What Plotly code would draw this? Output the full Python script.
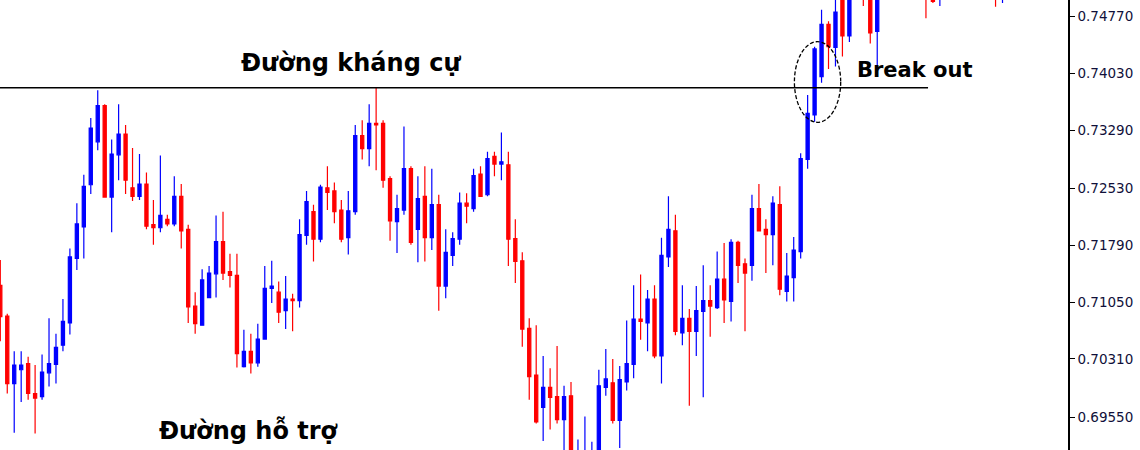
import plotly.graph_objects as go

# ---- data ----
opens = [0.7127, 0.7087, 0.6999, 0.7017, 0.7025, 0.6986, 0.6982, 0.7013, 0.7024, 0.7049,
         0.7078, 0.7162, 0.7203, 0.7258, 0.7314, 0.7361, 0.7242, 0.7297, 0.7324, 0.7254,
         0.7243, 0.7259, 0.7206, 0.7202, 0.7213, 0.7207, 0.7243, 0.7200, 0.7100, 0.7075,
         0.7111, 0.7142, 0.7184, 0.7145, 0.7140, 0.7021, 0.7041, 0.7026, 0.7057, 0.7123,
         0.7118, 0.7094, 0.7109, 0.7107, 0.7192, 0.7223, 0.7187, 0.7254, 0.7250, 0.7225,
         0.7189, 0.7223, 0.7322, 0.7305, 0.7338, 0.7338, 0.7266, 0.7210, 0.7225, 0.7279,
         0.7200, 0.7243, 0.7189, 0.7232, 0.7126, 0.7166, 0.7187, 0.7234, 0.7227, 0.7272,
         0.7245, 0.7295, 0.7285, 0.7284, 0.7188, 0.7159, 0.7071, 0.7010, 0.6968, 0.6994,
         0.6982, 0.6952, 0.6983, 0.6880, 0.6885, 0.6880, 0.6905, 0.6994, 0.7000, 0.6951,
         0.7001, 0.7024, 0.7083, 0.7078, 0.7109, 0.7035, 0.7164, 0.7198, 0.7065, 0.7084,
         0.7067, 0.7093, 0.7107, 0.7098, 0.7135, 0.7106, 0.7183, 0.7155, 0.7153, 0.7227,
         0.7200, 0.7193, 0.7232, 0.7119, 0.7137, 0.7171, 0.7291, 0.7349, 0.7399, 0.7467,
         0.7437, 0.7505, 0.7452, 0.7515, 0.7540, 0.7512, 0.7458, 0.7520, 0.7508, 0.7536,
         0.7560, 0.7538, 0.7522, 0.7530, 0.7512, 0.7505, 0.7530, 0.7512, 0.7528, 0.7510,
         0.7525, 0.7544, 0.7520, 0.7512, 0.7502, 0.7518, 0.7535]
highs = [0.7160, 0.7090, 0.7041, 0.7041, 0.7034, 0.7023, 0.7037, 0.7084, 0.7064, 0.7109,
         0.7175, 0.7234, 0.7271, 0.7345, 0.7381, 0.7363, 0.7317, 0.7363, 0.7336, 0.7306,
         0.7298, 0.7274, 0.7238, 0.7296, 0.7219, 0.7269, 0.7259, 0.7206, 0.7118, 0.7148,
         0.7152, 0.7218, 0.7223, 0.7168, 0.7168, 0.7069, 0.7064, 0.7077, 0.7152, 0.7159,
         0.7132, 0.7139, 0.7116, 0.7213, 0.7250, 0.7232, 0.7258, 0.7282, 0.7261, 0.7238,
         0.7250, 0.7336, 0.7342, 0.7363, 0.7385, 0.7342, 0.7269, 0.7245, 0.7334, 0.7282,
         0.7269, 0.7282, 0.7279, 0.7245, 0.7200, 0.7196, 0.7248, 0.7247, 0.7279, 0.7282,
         0.7301, 0.7301, 0.7326, 0.7301, 0.7213, 0.7170, 0.7084, 0.7075, 0.7035, 0.7019,
         0.7048, 0.6996, 0.7001, 0.6926, 0.6956, 0.6923, 0.7017, 0.7044, 0.7031, 0.7022,
         0.7081, 0.7127, 0.7141, 0.7121, 0.7127, 0.7189, 0.7243, 0.7219, 0.7127, 0.7096,
         0.7126, 0.7153, 0.7127, 0.7171, 0.7182, 0.7187, 0.7185, 0.7162, 0.7245, 0.7259,
         0.7213, 0.7243, 0.7256, 0.7169, 0.7190, 0.7299, 0.7375, 0.7438, 0.7486, 0.7471,
         0.7512, 0.7518, 0.7528, 0.7545, 0.7552, 0.7530, 0.7535, 0.7538, 0.7545, 0.7568,
         0.7570, 0.7548, 0.7550, 0.7545, 0.7525, 0.7540, 0.7541, 0.7535, 0.7537, 0.7533,
         0.7551, 0.7556, 0.7528, 0.7525, 0.7530, 0.7540, 0.7544]
lows = [0.7054, 0.6986, 0.6935, 0.6975, 0.6978, 0.6934, 0.6978, 0.6995, 0.6999, 0.7041,
        0.7063, 0.7147, 0.7162, 0.7246, 0.7303, 0.7242, 0.7196, 0.7264, 0.7246, 0.7237,
        0.7238, 0.7200, 0.7180, 0.7196, 0.7204, 0.7204, 0.7175, 0.7078, 0.7064, 0.7075,
        0.7111, 0.7111, 0.7134, 0.7124, 0.7020, 0.7020, 0.7012, 0.7021, 0.7056, 0.7104,
        0.7078, 0.7070, 0.7067, 0.7098, 0.7180, 0.7158, 0.7183, 0.7225, 0.7208, 0.7183,
        0.7167, 0.7219, 0.7291, 0.7282, 0.7277, 0.7254, 0.7185, 0.7169, 0.7219, 0.7180,
        0.7157, 0.7158, 0.7173, 0.7094, 0.7110, 0.7152, 0.7180, 0.7208, 0.7223, 0.7243,
        0.7243, 0.7269, 0.7264, 0.7152, 0.7130, 0.7047, 0.6978, 0.6947, 0.6924, 0.6939,
        0.6947, 0.6902, 0.6895, 0.6872, 0.6878, 0.6870, 0.6898, 0.6983, 0.6947, 0.6915,
        0.6990, 0.7006, 0.7056, 0.7041, 0.7032, 0.6999, 0.7151, 0.7062, 0.7049, 0.6970,
        0.7035, 0.6981, 0.7060, 0.7096, 0.7078, 0.7080, 0.7130, 0.7067, 0.7133, 0.7198,
        0.7143, 0.7153, 0.7114, 0.7106, 0.7106, 0.7162, 0.7279, 0.7340, 0.7391, 0.7409,
        0.7412, 0.7425, 0.7444, 0.7506, 0.7491, 0.7442, 0.7412, 0.7503, 0.7502, 0.7525,
        0.7530, 0.7515, 0.7510, 0.7475, 0.7495, 0.7491, 0.7508, 0.7504, 0.7506, 0.7503,
        0.7519, 0.7515, 0.7502, 0.7490, 0.7495, 0.7510, 0.7512]
closes = [0.7086, 0.6999, 0.7023, 0.7023, 0.6986, 0.6980, 0.7014, 0.7025, 0.7046, 0.7080,
          0.7164, 0.7207, 0.7256, 0.7332, 0.7361, 0.7242, 0.7298, 0.7324, 0.7264, 0.7243,
          0.7259, 0.7204, 0.7202, 0.7218, 0.7207, 0.7243, 0.7198, 0.7099, 0.7077, 0.7134,
          0.7143, 0.7184, 0.7143, 0.7140, 0.7038, 0.7041, 0.7026, 0.7057, 0.7123, 0.7126,
          0.7092, 0.7109, 0.7107, 0.7193, 0.7236, 0.7187, 0.7255, 0.7248, 0.7223, 0.7187,
          0.7224, 0.7322, 0.7305, 0.7338, 0.7336, 0.7264, 0.7211, 0.7227, 0.7279, 0.7183,
          0.7240, 0.7189, 0.7232, 0.7126, 0.7170, 0.7188, 0.7234, 0.7230, 0.7270, 0.7243,
          0.7292, 0.7285, 0.7288, 0.7187, 0.7158, 0.7070, 0.7008, 0.6949, 0.6994, 0.6981,
          0.6952, 0.6982, 0.6905, 0.6906, 0.6908, 0.6910, 0.6996, 0.7005, 0.6951, 0.7004,
          0.7025, 0.7083, 0.7080, 0.7109, 0.7035, 0.7166, 0.7200, 0.7067, 0.7084, 0.7067,
          0.7094, 0.7107, 0.7100, 0.7135, 0.7108, 0.7183, 0.7153, 0.7143, 0.7227, 0.7198,
          0.7193, 0.7234, 0.7122, 0.7139, 0.7173, 0.7292, 0.7351, 0.7435, 0.7467, 0.7438,
          0.7483, 0.7452, 0.7515, 0.7532, 0.7510, 0.7456, 0.7520, 0.7508, 0.7536, 0.7560,
          0.7538, 0.7522, 0.7541, 0.7505, 0.7497, 0.7530, 0.7512, 0.7528, 0.7510, 0.7525,
          0.7544, 0.7520, 0.7508, 0.7502, 0.7518, 0.7535, 0.7519]

tick_values = [0.69550, 0.70310, 0.71050, 0.71790, 0.72530, 0.73290, 0.74030, 0.74770]
tick_labels = ["0.69550", "0.70310", "0.71050", "0.71790", "0.72530", "0.73290", "0.74030", "0.74770"]

resistance_level = 0.73845
resistance_end = 133.3

breakout_zone = dict(x0=114.1, x1=120.75, y0=0.73394, y1=0.74445)

labels = [
    dict(text="Đường kháng cự", x=50.4, y=0.74167, size=24),
    dict(text="Break out", x=131.35, y=0.74076, size=21),
    dict(text="Đường hỗ trợ", x=35.7, y=0.69372, size=24),
]

idx = list(range(len(opens)))

fig = go.Figure(go.Candlestick(
    x=idx, open=opens, high=highs, low=lows, close=closes,
    increasing=dict(line=dict(color="#0000FF", width=1.2), fillcolor="#0000FF"),
    decreasing=dict(line=dict(color="#FF0000", width=1.2), fillcolor="#FF0000"),
    whiskerwidth=0,
    showlegend=False,
    hoverinfo="skip",
))

fig.add_shape(type="line", xref="x", yref="y", x0=-2, x1=resistance_end,
              y0=resistance_level, y1=resistance_level,
              line=dict(color="black", width=1.5))
fig.add_shape(type="circle", xref="x", yref="y", **breakout_zone,
              line=dict(color="black", width=1.3, dash="4px,2px"))

for lb in labels:
    fig.add_annotation(x=lb["x"], y=lb["y"], text=lb["text"], showarrow=False,
                       xanchor="center", yanchor="middle",
                       font=dict(family="DejaVu Sans", size=lb["size"], color="black", weight="bold"))

fig.update_layout(
    width=1140, height=450,
    margin=dict(l=0, r=72, t=0, b=0),
    paper_bgcolor="white", plot_bgcolor="white",
    boxgap=0.35,
    hovermode=False,
    xaxis=dict(visible=False, range=[-0.043, 153.41], rangeslider=dict(visible=False)),
    yaxis=dict(side="right", range=[0.69124, 0.749876], tickvals=tick_values, ticktext=tick_labels,
               showgrid=False, zeroline=False, showline=True, linecolor="black", linewidth=1.5,
               ticks="outside", ticklen=5, tickcolor="black", tickwidth=1,
               tickfont=dict(family="DejaVu Sans", size=13.5, color="#10103a")),
)

fig.write_html("out.html", config={"displayModeBar": False},
               post_script="document.body.style.margin='0';document.body.style.overflow='hidden';")
